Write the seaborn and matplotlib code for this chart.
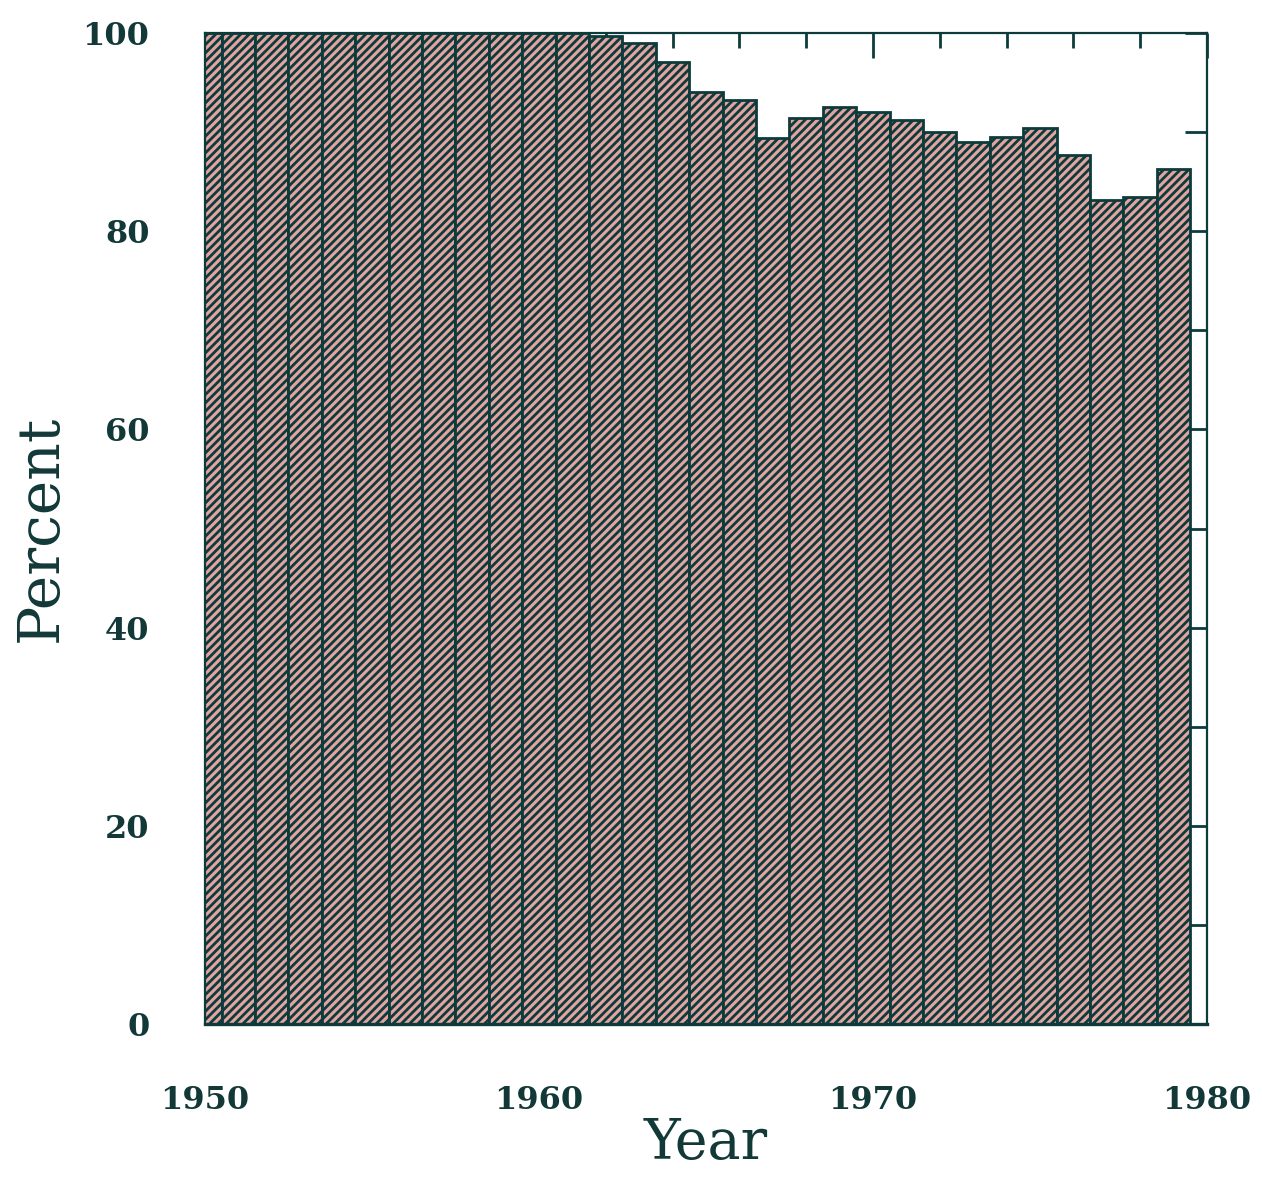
import matplotlib
matplotlib.use("Agg")
import matplotlib.pyplot as plt
from matplotlib.ticker import MultipleLocator
import seaborn as sns
import pandas as pd

# Share of the total for each year, 1950-1979
years = list(range(1950, 1980))
percent = [100.0, 100.0, 100.0, 100.0, 100.0, 100.0, 100.0, 100.0, 100.0, 100.0,
           100.0, 100.0, 99.7, 99.0, 97.1, 94.1, 93.2, 89.4, 91.4, 92.5,
           92.0, 91.2, 90.0, 89.0, 89.5, 90.4, 87.7, 83.2, 83.5, 86.3]
x_ticks = [1950, 1960, 1970, 1980]
y_ticks = [0, 20, 40, 60, 80, 100]

df = pd.DataFrame({"Year": years, "Percent": percent})

sns.set_style("white")
plt.rcParams["hatch.linewidth"] = 2.0
ink = "#0d3b3b"
text_ink = "#123838"
serif = ["DejaVu Serif", "Liberation Serif"]

fig = plt.figure(figsize=(12.62, 11.84), dpi=100)
ax = fig.add_axes([0.1624, 0.1351, 0.7940, 0.8370])

sns.barplot(data=df, x="Year", y="Percent", native_scale=True, width=1.0,
            color="#e3a3a1", saturation=1, edgecolor=ink, linewidth=2.0,
            hatch="////", ax=ax, errorbar=None)

ax.set_xlim(1950, 1980)
ax.set_ylim(0, 100)
ax.set_xticks(x_ticks)
ax.set_yticks(y_ticks)
ax.xaxis.set_minor_locator(MultipleLocator(2))
ax.yaxis.set_minor_locator(MultipleLocator(10))
ax.set_xticklabels([str(t) for t in x_ticks], family=serif,
                   fontweight="bold", fontsize=23, color=text_ink)
ax.set_yticklabels([str(t) for t in y_ticks], family=serif,
                   fontweight="bold", fontsize=23, color=text_ink)
ax.tick_params(axis="both", which="both", direction="in", top=True, right=True,
               color=ink, width=2)
ax.tick_params(axis="x", which="major", length=18, pad=44)
ax.tick_params(axis="x", which="minor", length=11)
ax.tick_params(axis="y", which="major", length=16, pad=40)
ax.tick_params(axis="y", which="minor", length=16)

for side, spine in ax.spines.items():
    spine.set_visible(True)
    spine.set_color(ink)
    spine.set_linewidth(2.4 if side == "bottom" else 1.6)

ax.set_xlabel("Year", family=serif, fontsize=40, color=text_ink,
              labelpad=0)
ax.set_ylabel("Percent", family=serif, fontsize=42, color=text_ink,
              labelpad=10)

fig.savefig("out.png", dpi=100, facecolor="white")
